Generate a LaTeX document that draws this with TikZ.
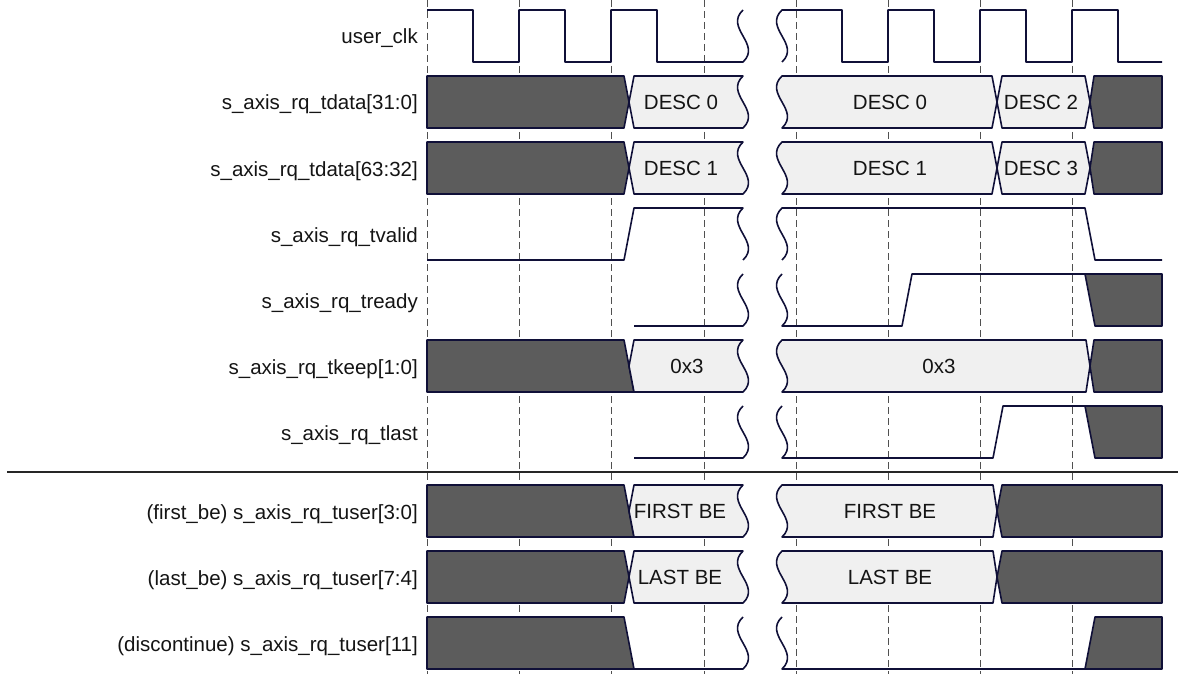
\documentclass[tikz,border=0pt]{standalone}
\usepackage{fontspec}
\setmainfont{Liberation Sans}
\definecolor{wire}{RGB}{16,16,56}
\definecolor{darkfill}{RGB}{92,92,92}
\definecolor{lightfill}{RGB}{240,240,240}
\definecolor{dashc}{RGB}{80,80,80}
\definecolor{txt}{RGB}{20,20,20}
\newcommand\lbfont{\fontsize{20.5}{24}\selectfont}
\begin{document}
\begin{tikzpicture}[x=1pt,y=-1pt,
  wave/.style={draw=wire,line width=1.6pt,line join=round},
  busdark/.style={wave,fill=darkfill},
  buslight/.style={wave,fill=lightfill},
  gridline/.style={draw=dashc,line width=0.9pt,dash pattern=on 7pt off 4pt},
  lbl/.style={anchor=base east,font=\lbfont,text=txt,inner sep=0pt},
  val/.style={font=\lbfont,text=txt,inner sep=0pt}]
\useasboundingbox (0,0) rectangle (1178,674);
% grid
\foreach \gx in {427,519,611,704,796,888,980,1072}
  \draw[gridline] (\gx,0) -- (\gx,674);
% separator
\draw[draw=black!85,line width=1.5pt] (7,472) -- (1178,472);
% labels
\node[lbl] (l0) at (418,44) {user\_clk};
\node[lbl] (l1) at (418,110) {s\_axis\_rq\_tdata[31:0]};
\node[lbl] (l2) at (418,176) {s\_axis\_rq\_tdata[63:32]};
\node[lbl] (l3) at (418,242) {s\_axis\_rq\_tvalid};
\node[lbl] (l4) at (418,308) {s\_axis\_rq\_tready};
\node[lbl] (l5) at (418,374) {s\_axis\_rq\_tkeep[1:0]};
\node[lbl] (l6) at (418,440) {s\_axis\_rq\_tlast};
\node[lbl] (l7) at (418,519) {(first\_be) s\_axis\_rq\_tuser[3:0]};
\node[lbl] (l8) at (418,585) {(last\_be) s\_axis\_rq\_tuser[7:4]};
\node[lbl] (l9) at (418,651) {(discontinue) s\_axis\_rq\_tuser[11]};
% clock
\draw[wave] (427,10) -- (473,10) -- (473,62) -- (519,62) -- (519,10) -- (565,10) -- (565,62) -- (611,62) -- (611,10) -- (657,10) -- (657,62) -- (743,62) .. controls +(19,-18) and +(-19,18) .. (743,10);
\draw[wave] (782,62) .. controls +(19,-18) and +(-19,18) .. (782,10) -- (842,10) -- (842,62) -- (888,62) -- (888,10) -- (934,10) -- (934,62) -- (980,62) -- (980,10) -- (1026,10) -- (1026,62) -- (1072,62) -- (1072,10) -- (1118,10) -- (1118,62) -- (1162,62);
% tdata[31:0]
\draw[busdark] (427,76) -- (624,76) -- (629,102) -- (624,128) -- (427,128) -- cycle;
\draw[buslight] (629,102) -- (634,76) -- (743,76) .. controls +(-19,18) and +(19,-18) .. (743,128) -- (634,128) -- cycle;
\draw[buslight] (782,76) -- (992,76) -- (997,102) -- (992,128) -- (782,128) .. controls +(19,-18) and +(-19,18) .. (782,76) -- cycle;
\draw[buslight] (997,102) -- (1002,76) -- (1085,76) -- (1090,102) -- (1085,128) -- (1002,128) -- cycle;
\draw[busdark] (1090,102) -- (1094,76) -- (1162,76) -- (1162,128) -- (1094,128) -- cycle;
\node[val] (v1a) at (681,102) {DESC 0};
\node[val] (v1b) at (890,102) {DESC 0};
\node[val] (v1c) at (1041,102) {DESC 2};
% tdata[63:32]
\draw[busdark] (427,142) -- (624,142) -- (629,168) -- (624,194) -- (427,194) -- cycle;
\draw[buslight] (629,168) -- (634,142) -- (743,142) .. controls +(-19,18) and +(19,-18) .. (743,194) -- (634,194) -- cycle;
\draw[buslight] (782,142) -- (992,142) -- (997,168) -- (992,194) -- (782,194) .. controls +(19,-18) and +(-19,18) .. (782,142) -- cycle;
\draw[buslight] (997,168) -- (1002,142) -- (1085,142) -- (1090,168) -- (1085,194) -- (1002,194) -- cycle;
\draw[busdark] (1090,168) -- (1094,142) -- (1162,142) -- (1162,194) -- (1094,194) -- cycle;
\node[val] (v2a) at (681,168) {DESC 1};
\node[val] (v2b) at (890,168) {DESC 1};
\node[val] (v2c) at (1041,168) {DESC 3};
% tvalid
\draw[wave] (427,260) -- (624,260) -- (634,208) -- (743,208) .. controls +(-19,18) and +(19,-18) .. (743,260);
\draw[wave] (782,260) .. controls +(19,-18) and +(-19,18) .. (782,208) -- (1085,208) -- (1095,260) -- (1162,260);
% tready
\draw[wave] (743,274) .. controls +(-19,18) and +(19,-18) .. (743,326) -- (634,326);
\draw[wave] (782,274) .. controls +(-19,18) and +(19,-18) .. (782,326) -- (902,326) -- (912,274) -- (1085,274);
\draw[busdark] (1085,274) -- (1095,326) -- (1162,326) -- (1162,274) -- cycle;
% tkeep
\draw[busdark] (427,340) -- (624,340) -- (634,392) -- (427,392) -- cycle;
\draw[buslight] (629,366) -- (634,340) -- (743,340) .. controls +(-19,18) and +(19,-18) .. (743,392) -- (634,392) -- cycle;
\draw[buslight] (782,340) -- (1086,340) -- (1090,366) -- (1086,392) -- (782,392) .. controls +(19,-18) and +(-19,18) .. (782,340) -- cycle;
\draw[busdark] (1090,366) -- (1094,340) -- (1162,340) -- (1162,392) -- (1094,392) -- cycle;
\node[val] (v5a) at (687,366) {0x3};
\node[val] (v5b) at (939,366) {0x3};
% tlast
\draw[wave] (743,406) .. controls +(-19,18) and +(19,-18) .. (743,458) -- (634,458);
\draw[wave] (782,406) .. controls +(-19,18) and +(19,-18) .. (782,458) -- (993,458) -- (1003,406) -- (1085,406);
\draw[busdark] (1085,406) -- (1095,458) -- (1162,458) -- (1162,406) -- cycle;
% first_be
\draw[busdark] (427,485) -- (624,485) -- (634,537) -- (427,537) -- cycle;
\draw[buslight] (629,511) -- (634,485) -- (743,485) .. controls +(-19,18) and +(19,-18) .. (743,537) -- (634,537) -- cycle;
\draw[buslight] (782,485) -- (993,485) -- (997,511) -- (993,537) -- (782,537) .. controls +(19,-18) and +(-19,18) .. (782,485) -- cycle;
\draw[busdark] (997,511) -- (1002,485) -- (1162,485) -- (1162,537) -- (1002,537) -- cycle;
\node[val] (v7a) at (680,511) {FIRST BE};
\node[val] (v7b) at (890,511) {FIRST BE};
% last_be
\draw[busdark] (427,551) -- (624,551) -- (629,577) -- (624,603) -- (427,603) -- cycle;
\draw[buslight] (629,577) -- (634,551) -- (743,551) .. controls +(-19,18) and +(19,-18) .. (743,603) -- (634,603) -- cycle;
\draw[buslight] (782,551) -- (993,551) -- (997,577) -- (993,603) -- (782,603) .. controls +(19,-18) and +(-19,18) .. (782,551) -- cycle;
\draw[busdark] (997,577) -- (1002,551) -- (1162,551) -- (1162,603) -- (1002,603) -- cycle;
\node[val] (v8a) at (680,577) {LAST BE};
\node[val] (v8b) at (890,577) {LAST BE};
% discontinue
\draw[busdark] (427,617) -- (624,617) -- (634,669) -- (427,669) -- cycle;
\draw[wave] (743,617) .. controls +(-19,18) and +(19,-18) .. (743,669) -- (634,669);
\draw[wave] (782,617) .. controls +(-19,18) and +(19,-18) .. (782,669) -- (1085,669);
\draw[busdark] (1085,669) -- (1095,617) -- (1162,617) -- (1162,669) -- cycle;
\end{tikzpicture}
\end{document}
